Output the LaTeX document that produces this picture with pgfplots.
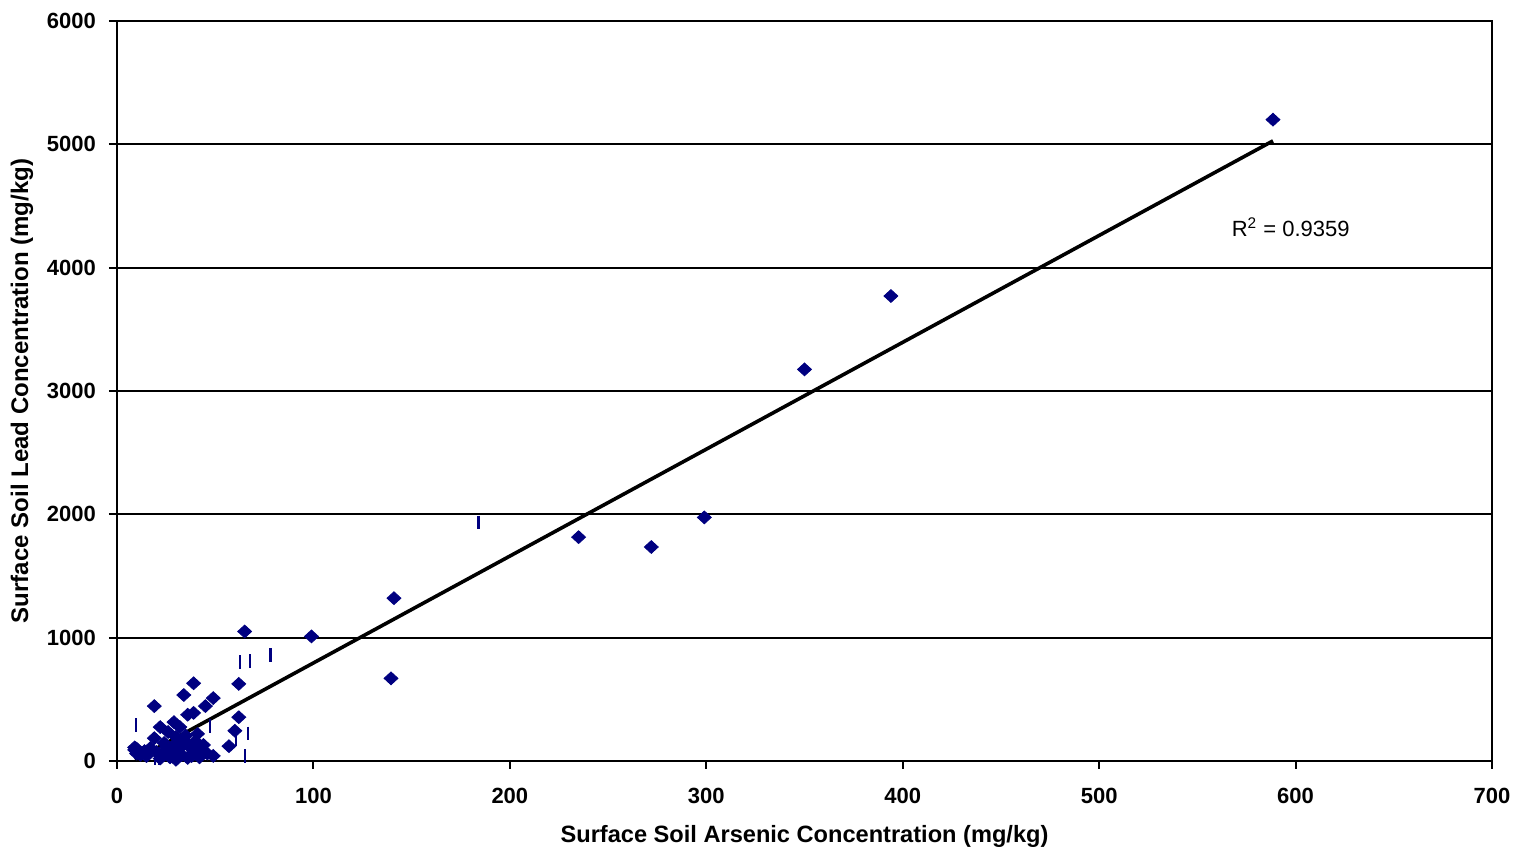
\documentclass[border=0pt]{standalone}
\usepackage{pgfplots}
\pgfplotsset{compat=1.18}
\usepackage{fontspec}
\setmainfont{Liberation Sans}
\definecolor{ptnavy}{RGB}{0,0,128}
\begin{document}
\begin{tikzpicture}
\begin{axis}[
  width=687.5pt, height=370pt, scale only axis,
  xmin=0, xmax=700, ymin=0, ymax=6000,
  xtick={0,100,...,700}, ytick={0,1000,...,6000},
  tick align=outside, tick pos=left,
  major tick length=4pt,
  ymajorgrids, grid style={black, line width=1pt},
  axis line style={black, line width=1pt},
  every tick/.style={black, line width=1pt},
  tick label style={font=\bfseries\fontsize{11}{13}\selectfont},
  xticklabel style={yshift=-6pt},
  yticklabel style={xshift=-3pt},
  /pgf/number format/assume math mode=true,
  /pgf/number format/1000 sep={},
  xlabel={\bfseries Surface Soil Arsenic Concentration (mg/kg)},
  ylabel={\bfseries Surface Soil Lead Concentration (mg/kg)},
  xlabel style={font=\fontsize{11.8}{13}\selectfont, yshift=-4pt},
  ylabel style={font=\fontsize{12}{13}\selectfont, yshift=0pt},
  clip=false,
]
% detected values
\addplot[only marks, mark=diamond*, mark size=3.2pt, ptnavy,
  mark options={xscale=1.45, fill=ptnavy, draw=ptnavy}] coordinates {
  (588.5,5200) (394,3770) (350,3175) (299,1975) (272,1735) (235,1815)
  (141,1320) (139.5,670) (99,1010) (65,1050) (62,625)
  (39,630) (34,535) (49,510) (19,445) (45,445) (39,390) (36,375) (62,355)
  (29,315) (22,275) (32,275) (60,245) (41,220) (19,185) (34,170) (57,120)
  (44,130) (28,115) (9,90) (10,60) (9,110) (17,105) (24,146) (39,73) (33,49)
  (24,65) (49,41) (20,73) (37,114) (30,195) (26,235) (12,50) (14,80)
  (27,30) (36,25) (42,95) (31,145)
  (10,100) (11,75) (15,40) (22,20) (30,10) (38,40) (42,30) (46,60)
  (25,110) (29,90) (33,120) (40,160) (35,205)
};
% non-detect values
\addplot[only marks, mark=|, mark size=3.4pt, ptnavy,
  mark options={line width=1.3pt}] coordinates {
  (184,1935) (62.6,803) (67.7,811) (78,860)
  (9.7,292) (47.3,283) (66.7,223) (65.2,40) (19.3,20) (21.4,25) (60.6,176)
};
% linear trend line
\addplot[black, line width=1.8pt] coordinates {(9.2,8) (588.5,5028)};
\node[font=\fontsize{11}{13}\selectfont] at (axis cs:597.5,4330) {R\textsuperscript{2} = 0.9359};
\end{axis}
\path ([shift={(-58.5pt,10.5pt)}]current axis.north west) ([shift={(14pt,-46pt)}]current axis.south east);
\end{tikzpicture}
\end{document}
